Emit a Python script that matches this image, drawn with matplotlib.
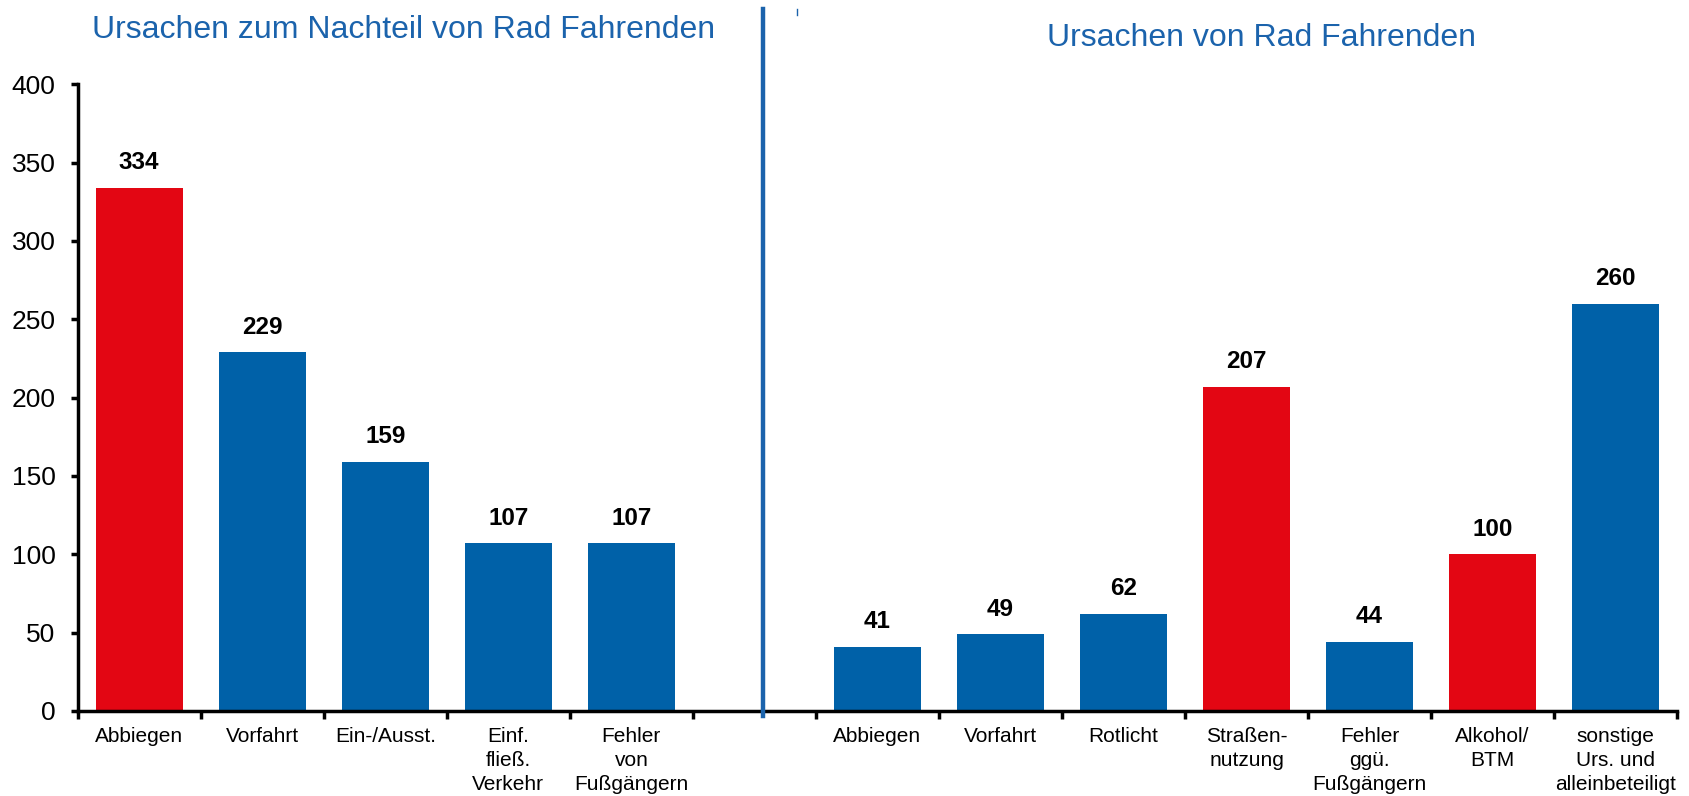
import matplotlib
matplotlib.use("Agg")
import matplotlib.pyplot as plt
from matplotlib.lines import Line2D
from matplotlib.ticker import FixedLocator

plt.rcParams['font.family'] = ['Liberation Sans', 'DejaVu Sans']

# Data
left_categories = ["Abbiegen", "Vorfahrt", "Ein-/Ausst.", "Einf.\nfließ.\nVerkehr", "Fehler\nvon\nFußgängern"]
left_values = [334, 229, 159, 107, 107]
left_highlight = [True, False, False, False, False]

right_categories = ["Abbiegen", "Vorfahrt", "Rotlicht", "Straßen-\nnutzung", "Fehler\nggü.\nFußgängern",
                    "Alkohol/\nBTM", "sonstige\nUrs. und\nalleinbeteiligt"]
right_values = [41, 49, 62, 207, 44, 100, 260]
right_highlight = [False, False, False, True, False, True, False]

left_title = "Ursachen zum Nachteil von Rad Fahrenden"
right_title = "Ursachen von Rad Fahrenden"
yticks = [0, 50, 100, 150, 200, 250, 300, 350, 400]

RED = "#E30613"
BLUE = "#0061A8"
TITLE_BLUE = "#1B63AC"

# Positions: left group, one empty slot, right group
n_left = len(left_values)
left_x = list(range(n_left))
right_x = [n_left + 1 + i for i in range(len(right_values))]
n_slots = n_left + 1 + len(right_values)

fig = plt.figure(figsize=(16.89, 7.96), dpi=100)
ax = fig.add_axes([0.046, 0.107, 0.947, 0.787])

xs = left_x + right_x
vals = left_values + right_values
cols = [RED if h else BLUE for h in left_highlight + right_highlight]
bars = ax.bar(xs, vals, width=0.71, color=cols, zorder=2)

for x, v in zip(xs, vals):
    ax.annotate(str(v), (x, v), xytext=(0, 18), textcoords="offset points",
                ha="center", va="center", fontsize=17.5, fontweight="bold", color="black")

ax.set_xlim(-0.5, n_slots - 0.5)
ax.set_ylim(0, 400)
ax.set_yticks(yticks)
ax.set_yticklabels([str(t) for t in yticks], fontsize=19)

ax.set_xticks(xs)
ax.set_xticklabels(left_categories + right_categories, fontsize=15, linespacing=1.32, va="top")
ax.xaxis.set_minor_locator(FixedLocator([i - 0.5 for i in range(n_slots + 1)]))
ax.tick_params(axis="x", which="major", length=0, pad=12)
ax.tick_params(axis="x", which="minor", length=6, width=2.5, direction="out", color="black")
ax.tick_params(axis="y", which="major", length=5, width=2.5, direction="out", pad=11)

for s in ["top", "right"]:
    ax.spines[s].set_visible(False)
for s in ["left", "bottom"]:
    ax.spines[s].set_linewidth(2.5)
    ax.spines[s].set_color("black")

# Divider between groups
fig.add_artist(Line2D([0.4518, 0.4518], [0.100, 0.989], color=TITLE_BLUE, linewidth=3.2, zorder=5))
fig.add_artist(Line2D([0.4718, 0.4718], [0.981, 0.989], color=TITLE_BLUE, linewidth=1))

fig.text(0.239, 0.962, left_title, ha="center", va="center", fontsize=23, color=TITLE_BLUE)
fig.text(0.747, 0.952, right_title, ha="center", va="center", fontsize=23, color=TITLE_BLUE)

fig.savefig("out.png", dpi=100)
